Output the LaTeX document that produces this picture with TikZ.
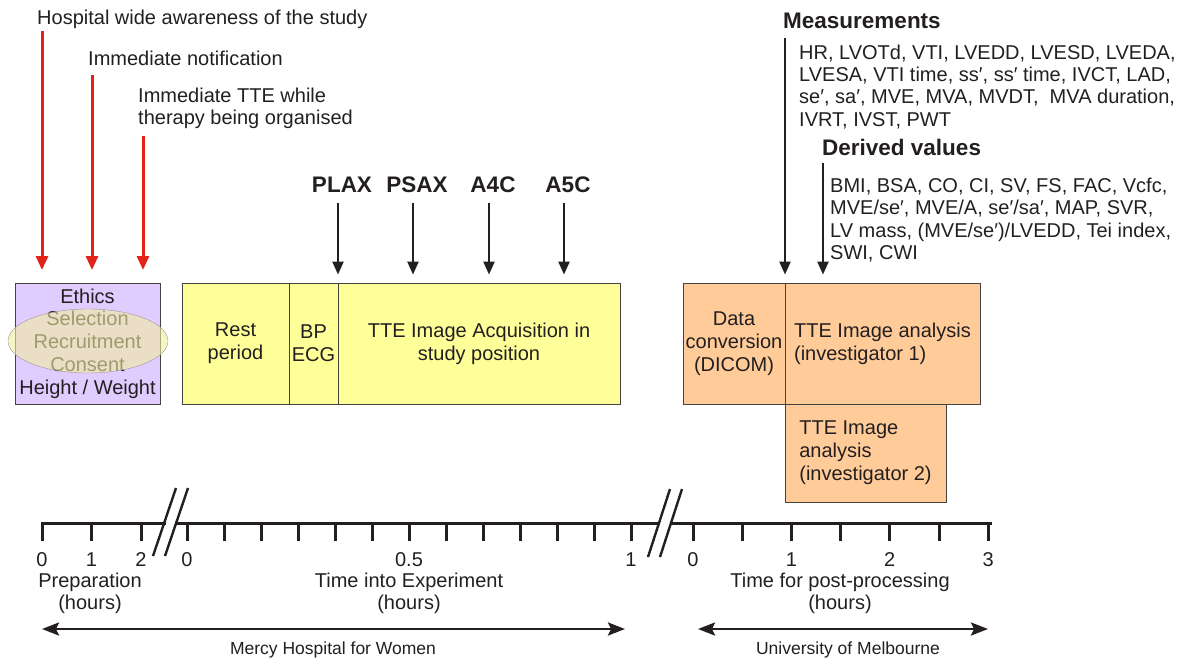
\documentclass[tikz,border=0pt]{standalone}
\usepackage{fontspec}
\setmainfont{Liberation Sans}
\usetikzlibrary{arrows.meta}

\definecolor{ink}{HTML}{231F20}
\definecolor{lilac}{HTML}{E0CCFF}
\definecolor{lemon}{HTML}{FFFF99}
\definecolor{peach}{HTML}{FFCC99}
\definecolor{alarm}{HTML}{E2231A}
\definecolor{haze}{HTML}{F2EDA0}

\begin{document}
\begin{tikzpicture}[x=1pt,y=-1pt,
  txt/.style={inner sep=0pt,text=ink,font=\fontsize{20}{22.5}\selectfont},
  hdr/.style={inner sep=0pt,text=ink,font=\fontsize{22.5}{25}\selectfont\bfseries},
  small/.style={inner sep=0pt,text=ink,font=\fontsize{17.5}{20}\selectfont},
  box/.style={draw=ink!85,line width=0.9pt,inner sep=0pt,text=ink,align=center,
    font=\fontsize{20}{23}\selectfont},
  redarr/.style={alarm,line width=3pt,-{Triangle[length=14pt,width=12pt]}},
  blkarr/.style={ink,line width=2.4pt,-{Triangle[length=13pt,width=11pt]}},
  span/.style={ink,line width=2.6pt,{Stealth[length=17pt,width=13pt,inset=3pt]}-{Stealth[length=17pt,width=13pt,inset=3pt]}},
  axis/.style={ink,line width=3pt,line cap=rect}
]
\useasboundingbox (0,0) rectangle (1187,657);

%% preparation
\node[box,fill=lilac,minimum width=145,minimum height=121,font=\fontsize{20}{22.75}\selectfont] (prep) at (87.5,343.5)
  {Ethics\\Selection\\Recruitment\\Consent\\Height / Weight};
\draw[black!40,fill=haze,fill opacity=0.6] (88,341) ellipse [x radius=80,y radius=32];

\node[txt,anchor=base west] (aware) at (37,24) {Hospital wide awareness of the study};
\node[txt,anchor=base west] (notify) at (88,65) {Immediate notification};
\node[txt,anchor=north west,align=left] (organise) at (138,87.5) {Immediate TTE while\\therapy being organised};

\coordinate (r1) at (42,270);
\coordinate (r2) at (92,270);
\coordinate (r3) at (143,270);
\draw[redarr,shorten <=3pt] (aware.south -| r1) -- (r1);
\draw[redarr,shorten <=10pt] (notify.south -| r2) -- (r2);
\draw[redarr,shorten <=7pt] (organise.south -| r3) -- (r3);

%% experiment
\node[box,fill=lemon,minimum width=107,minimum height=121] (rest) at (235.5,343.5) {Rest\\period};
\node[box,fill=lemon,minimum width=49,minimum height=121] (bp) at (313.5,343.5) {BP\\ECG};
\node[box,fill=lemon,minimum width=282,minimum height=121] (acq) at (479,343.5)
  {TTE Image Acquisition in\\study position};

\node[hdr] (plax) at (342,185) {PLAX};
\node[hdr] (psax) at (417,185) {PSAX};
\node[hdr] (afour) at (493,185) {A4C};
\node[hdr] (afive) at (568,185) {A5C};
\foreach \v in {plax,psax,afour,afive}{
  \draw[blkarr,shorten <=10pt,shorten >=8pt] ([xshift=-4]\v.south) -- ([xshift=-4]\v.south |- acq.north);
}

%% post-processing
\node[box,fill=peach,minimum width=102,minimum height=121] (conv) at (734,343.5) {Data\\conversion\\(DICOM)};
\node[box,fill=peach,minimum width=195,minimum height=121,align=left] (anaone) at (882.5,343.5)
  {TTE Image analysis\\(investigator 1)};
\node[box,fill=peach,minimum width=161,minimum height=98,align=left] (anatwo) at (865.5,453)
  {TTE Image\\analysis\\(investigator 2)};

\node[hdr,anchor=base west] (meas) at (783,28) {Measurements};
\node[txt,anchor=north west,align=left,font=\fontsize{20}{22.4}\selectfont] (measlist) at (799,44.5)
  {HR, LVOTd, VTI, LVEDD, LVESD, LVEDA,\\
   LVESA, VTI time, ss′, ss′ time, IVCT, LAD,\\
   se′, sa′, MVE, MVA, MVDT,\ \ MVA duration,\\
   IVRT, IVST, PWT};
\node[hdr,anchor=base west] (derv) at (822,155) {Derived values};
\node[txt,anchor=north west,align=left,font=\fontsize{20}{22.6}\selectfont] (dervlist) at (830,177.5)
  {BMI, BSA, CO, CI, SV, FS, FAC, Vcfc,\\
   MVE/se′, MVE/A, se′/sa′, MAP, SVR,\\
   LV mass, (MVE/se′)/LVEDD, Tei index,\\
   SWI, CWI};
\draw[blkarr,shorten <=10pt,shorten >=8pt] ([xshift=2]meas.south west) -- ([xshift=2]meas.south west |- anaone.north);
\draw[blkarr,shorten <=8pt,shorten >=8pt] ([xshift=1]derv.south west) -- ([xshift=1]derv.south west |- anaone.north);

%% time axis
\draw[axis] (42,523) -- (164,523);
\draw[axis] (176,523) -- (658,523);
\draw[axis] (671,523) -- (990,523);
\foreach \n in {0,1,2}{
  \draw[axis] (42+49.5*\n,523) -- ++(0,16);
}
\foreach \n in {0,1,...,12}{
  \draw[axis] (187+37*\n,523) -- ++(0,16);
}
\foreach \n in {0,1,...,6}{
  \draw[axis] (693+49.2*\n,523) -- ++(0,16);
}
\draw[ink,line width=2.4pt] (153,556) -- (176,488);
\draw[ink,line width=2.4pt] (165,556) -- (188,488);
\draw[ink,line width=2.4pt] (648,557) -- (670,489);
\draw[ink,line width=2.4pt] (660,557) -- (682,489);

\node[txt,anchor=base] (pa) at (42,566) {0};
\node[txt,anchor=base] (pb) at (91.5,566) {1};
\node[txt,anchor=base] (pc) at (141,566) {2};
\node[txt,anchor=base] (ea) at (187,566) {0};
\node[txt,anchor=base] (eb) at (409,566) {0.5};
\node[txt,anchor=base] (ec) at (631,566) {1};
\node[txt,anchor=base] (qa) at (693,566) {0};
\node[txt,anchor=base] (qb) at (791.4,566) {1};
\node[txt,anchor=base] (qc) at (889.8,566) {2};
\node[txt,anchor=base] (qd) at (988.2,566) {3};

\node[txt,align=center,anchor=north,font=\fontsize{20}{21.5}\selectfont] (preplab) at (90,573) {Preparation\\(hours)};
\node[txt,align=center,anchor=north,font=\fontsize{20}{21.5}\selectfont] (explab) at (409,573) {Time into Experiment\\(hours)};
\node[txt,align=center,anchor=north,font=\fontsize{20}{21.5}\selectfont] (postlab) at (840,573) {Time for post-processing\\(hours)};

%% sites
\coordinate (ma) at (42,629);
\coordinate (mb) at (625,629);
\coordinate (ua) at (698,629);
\coordinate (ub) at (988,629);
\draw[span] (ma) -- (mb);
\draw[span] (ua) -- (ub);
\node[small,anchor=base] (mercy) at (333,654) {Mercy Hospital for Women};
\node[small,anchor=base] (melb) at (848,654) {University of Melbourne};

\end{tikzpicture}
\end{document}
